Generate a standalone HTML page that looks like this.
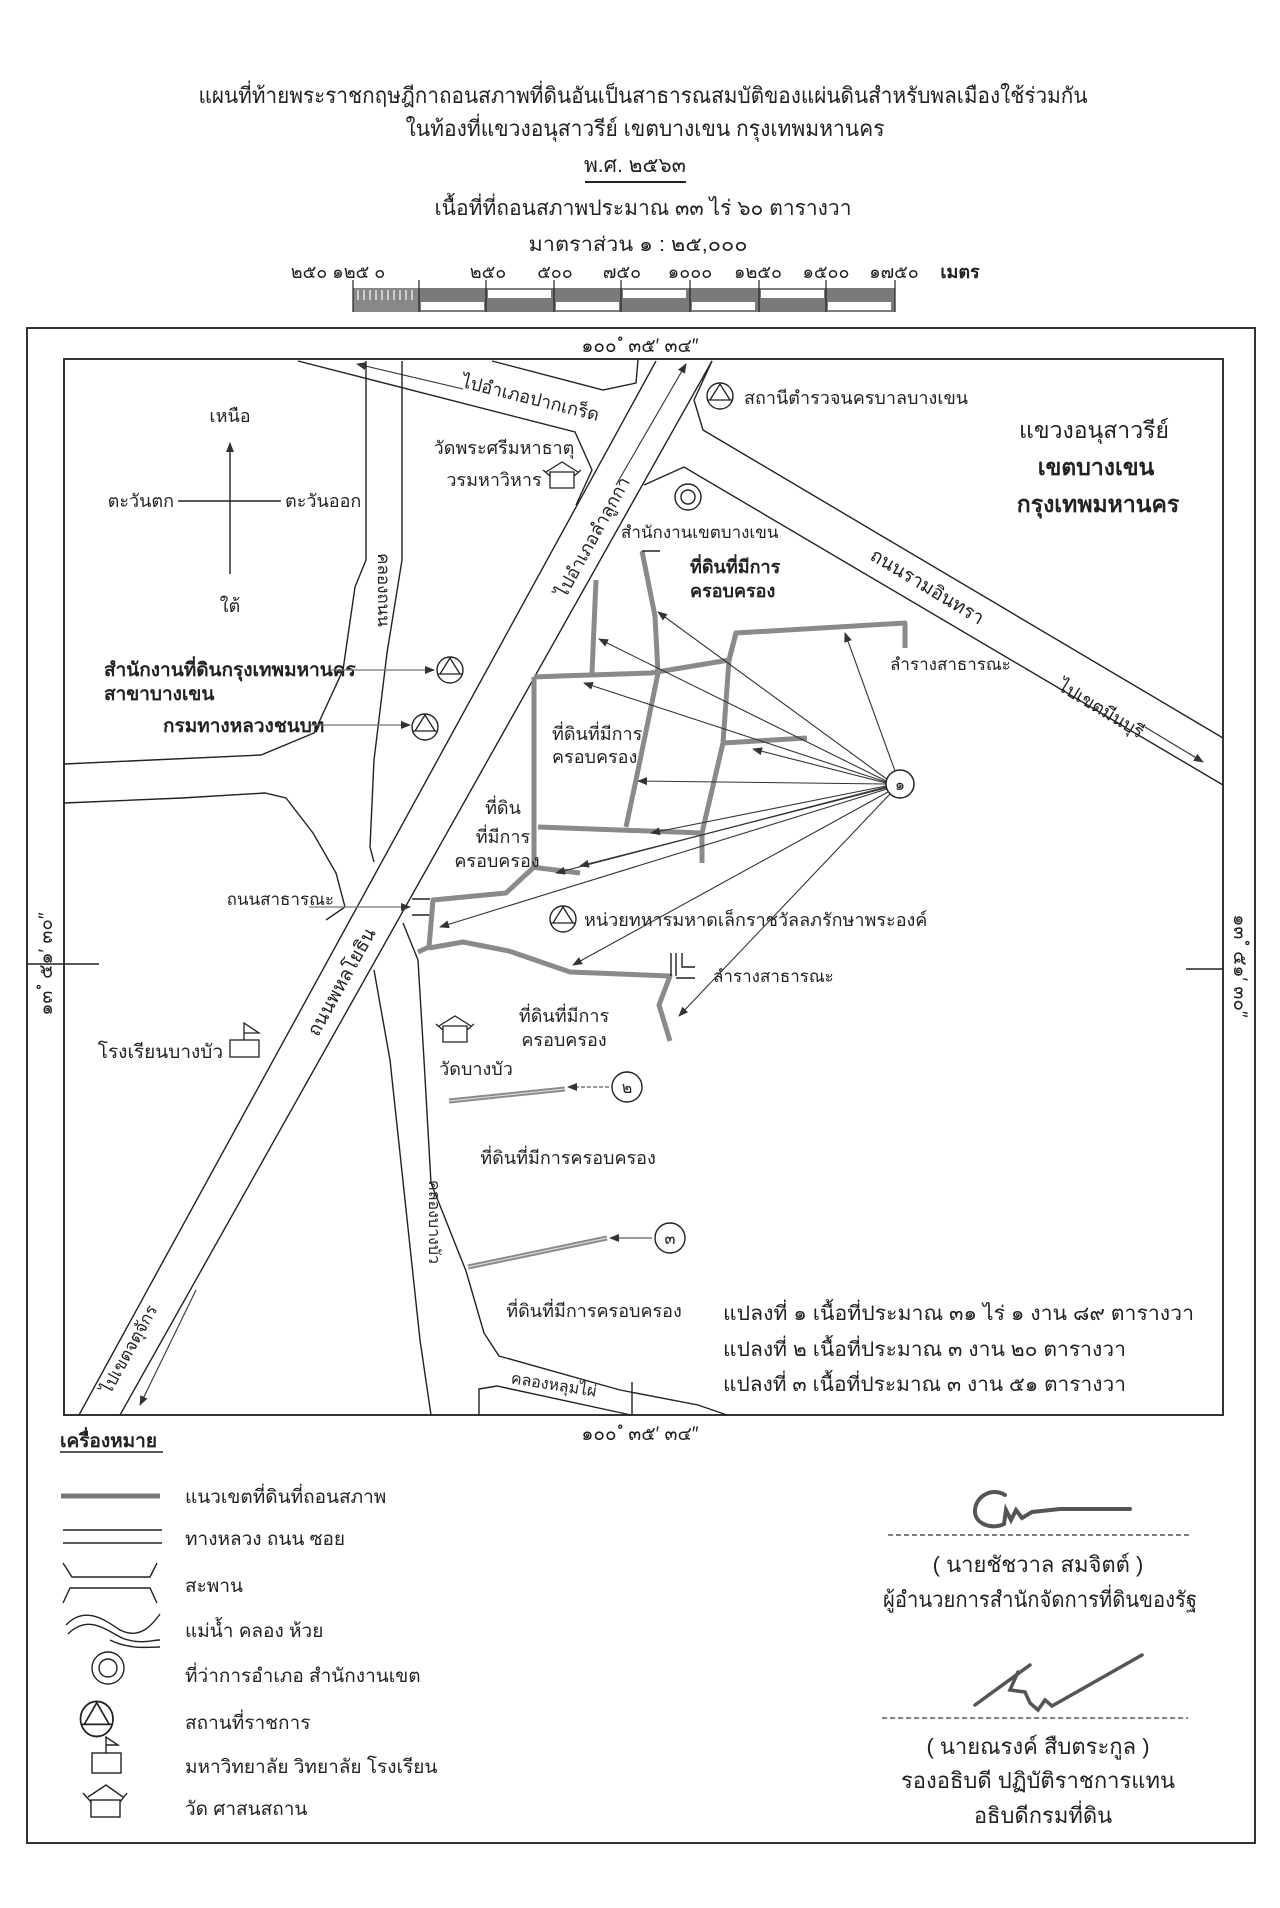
<!DOCTYPE html>
<html><head><meta charset="utf-8">
<style>
html,body{margin:0;padding:0;background:#fff;}
svg{display:block;}
text{font-family:"Liberation Sans","Noto Sans CJK SC",sans-serif;fill:#222;}
.ln{fill:none;stroke:#222;stroke-width:1.4;}
.bd{fill:none;stroke:#8a8a8a;stroke-width:5;stroke-linejoin:round;}
.bdi{fill:none;stroke:#d8d8d8;stroke-width:1.2;}
.ar{fill:none;stroke:#333;stroke-width:1.1;}
.g{fill:none;stroke:#777;stroke-width:1.2;}
</style></head>
<body>
<svg width="1280" height="1908" viewBox="0 0 1280 1908" xmlns="http://www.w3.org/2000/svg">
<defs>
<marker id="ah" viewBox="0 0 10 10" refX="9" refY="5" markerWidth="10" markerHeight="10" markerUnits="userSpaceOnUse" orient="auto">
<path d="M0,1 L10,5 L0,9 z" fill="#333"/></marker>
<g id="gov"><circle cx="0" cy="0" r="13" fill="none" stroke="#222" stroke-width="1.4"/><path d="M0,-12 L-10,4 L10,4 z M-12,4 L12,4" fill="none" stroke="#222" stroke-width="1.3"/></g>
<g id="tmp"><path d="M-12,-2 L-12,14 L12,14 L12,-2 z M-19,-4 L-12,2 M-16,-2 L0,-12 L16,-2 M19,-4 L12,2" fill="none" stroke="#222" stroke-width="1.3"/></g>
</defs>

<!-- Titles -->
<text x="643" y="103" font-size="22" text-anchor="middle" textLength="889" lengthAdjust="spacingAndGlyphs">แผนที่ท้ายพระราชกฤษฎีกาถอนสภาพที่ดินอันเป็นสาธารณสมบัติของแผ่นดินสำหรับพลเมืองใช้ร่วมกัน</text>
<text x="645" y="136" font-size="22" text-anchor="middle" textLength="479" lengthAdjust="spacingAndGlyphs">ในท้องที่แขวงอนุสาวรีย์  เขตบางเขน  กรุงเทพมหานคร</text>
<text x="635" y="172" font-size="21" text-anchor="middle">พ.ศ. ๒๕๖๓</text>
<line x1="585" y1="182" x2="686" y2="182" stroke="#222" stroke-width="2"/>
<text x="643" y="215" font-size="21" text-anchor="middle" textLength="417" lengthAdjust="spacingAndGlyphs">เนื้อที่ที่ถอนสภาพประมาณ ๓๓ ไร่ ๖๐ ตารางวา</text>
<text x="638" y="251" font-size="20" text-anchor="middle" textLength="219" lengthAdjust="spacingAndGlyphs">มาตราส่วน ๑ : ๒๕,๐๐๐</text>
<g font-size="18" text-anchor="middle">
<text x="338" y="278">๒๕๐ ๑๒๕ ๐</text>
<text x="488" y="278">๒๕๐</text><text x="555" y="278">๕๐๐</text><text x="622" y="278">๗๕๐</text>
<text x="690" y="278">๑๐๐๐</text><text x="758" y="278">๑๒๕๐</text><text x="826" y="278">๑๕๐๐</text>
<text x="894" y="278">๑๗๕๐</text><text x="960" y="278" font-weight="bold">เมตร</text>
</g>
<!-- scale bar -->
<g>
<rect x="353" y="288" width="542" height="24" fill="#7a7a7a"/>
<rect x="353" y="288" width="66" height="24" fill="#888"/>
<g stroke="#fff" stroke-width="1.2">
<line x1="358" y1="290" x2="358" y2="300"/><line x1="364" y1="290" x2="364" y2="300"/><line x1="370" y1="290" x2="370" y2="300"/><line x1="376" y1="290" x2="376" y2="300"/><line x1="382" y1="290" x2="382" y2="300"/><line x1="388" y1="290" x2="388" y2="300"/><line x1="394" y1="290" x2="394" y2="300"/><line x1="400" y1="290" x2="400" y2="300"/><line x1="406" y1="290" x2="406" y2="300"/><line x1="412" y1="290" x2="412" y2="300"/>
</g>
<rect x="421" y="302" width="63" height="8" fill="#fff"/>
<rect x="488" y="290" width="63" height="8" fill="#fff"/>
<rect x="556" y="302" width="63" height="8" fill="#fff"/>
<rect x="623" y="290" width="63" height="8" fill="#fff"/>
<rect x="692" y="302" width="63" height="8" fill="#fff"/>
<rect x="761" y="290" width="63" height="8" fill="#fff"/>
<rect x="828" y="302" width="63" height="8" fill="#fff"/>
<g stroke="#222" stroke-width="1.2">
<line x1="353" y1="280" x2="353" y2="312"/><line x1="419" y1="280" x2="419" y2="312"/><line x1="486" y1="280" x2="486" y2="312"/><line x1="554" y1="280" x2="554" y2="312"/><line x1="621" y1="280" x2="621" y2="312"/><line x1="690" y1="280" x2="690" y2="312"/><line x1="759" y1="280" x2="759" y2="312"/><line x1="826" y1="280" x2="826" y2="312"/><line x1="895" y1="280" x2="895" y2="312"/>
</g>
</g>

<!-- Frames -->
<rect x="27" y="328" width="1228" height="1515" fill="none" stroke="#333" stroke-width="2"/>
<rect x="64" y="359" width="1159" height="1056" fill="none" stroke="#333" stroke-width="2"/>
<text x="640" y="358" font-size="19" text-anchor="middle" dy="-6">๑๐๐ ํ ๓๕′ ๓๔″</text>
<text x="640" y="1440" font-size="19" text-anchor="middle">๑๐๐ ํ ๓๕′ ๓๔″</text>
<text transform="translate(52,964) rotate(-90)" font-size="19" text-anchor="middle">๑๓ ํ ๕๑′ ๓๐″</text>
<text transform="translate(1234,966) rotate(90)" font-size="19" text-anchor="middle">๑๓ ํ ๕๑′ ๓๐″</text>
<line x1="27" y1="964" x2="99" y2="964" class="ln"/>
<line x1="1186" y1="969" x2="1223" y2="969" class="ln"/>

<!-- Compass -->
<line x1="230" y1="574" x2="230" y2="443" class="ln" marker-end="url(#ah)"/>
<line x1="178" y1="501" x2="281" y2="501" class="ln"/>
<text x="230" y="422" font-size="18" text-anchor="middle">เหนือ</text>
<text x="230" y="612" font-size="18" text-anchor="middle">ใต้</text>
<text x="174" y="507" font-size="18" text-anchor="end">ตะวันตก</text>
<text x="285" y="507" font-size="18">ตะวันออก</text>

<!-- Main road Phahonyothin -->
<line x1="79" y1="1415" x2="656" y2="361" class="ln"/>
<line x1="120" y1="1415" x2="712" y2="361" class="ln"/>
<line x1="616" y1="485" x2="686" y2="364" class="ar" marker-end="url(#ah)"/>
<text transform="translate(598,540) rotate(-61)" font-size="18" text-anchor="middle">ไปอำเภอลำลูกกา</text>
<text transform="translate(347,985) rotate(-61)" font-size="19" text-anchor="middle">ถนนพหลโยธิน</text>
<text transform="translate(134,1352) rotate(-61)" font-size="17" text-anchor="middle">ไปเขตจตุจักร</text>
<line x1="196" y1="1290" x2="140" y2="1405" class="ar" marker-end="url(#ah)"/>

<!-- Pak Kret road -->
<path d="M298,361 L575,432 L592,470 L576,505" class="ln"/>
<path d="M492,361 L603,390 L636,383 L638,360" class="ln"/>
<line x1="463" y1="389" x2="357" y2="364" class="ar" marker-end="url(#ah)"/>
<text transform="translate(529,404) rotate(14)" font-size="18" text-anchor="middle">ไปอำเภอปากเกร็ด</text>
<text x="504" y="454" font-size="18" text-anchor="middle">วัดพระศรีมหาธาตุ</text>
<text x="494" y="486" font-size="18" text-anchor="middle">วรมหาวิหาร</text>
<use href="#tmp" x="562" y="474"/>

<!-- Ramintra road -->
<path d="M712,361 L694,400 L703,430 L1223,738" class="ln"/>
<path d="M644,485 L684,467 L1223,785" class="ln"/>
<line x1="1145" y1="727" x2="1203" y2="762" class="ar" marker-end="url(#ah)"/>
<text transform="translate(924,592) rotate(31)" font-size="19" text-anchor="middle">ถนนรามอินทรา</text>
<text transform="translate(1098,714) rotate(31)" font-size="18" text-anchor="middle">ไปเขตมีนบุรี</text>
<use href="#gov" x="720" y="396"/>
<text x="744" y="404" font-size="18">สถานีตำรวจนครบาลบางเขน</text>
<text x="1094" y="438" font-size="23" text-anchor="middle">แขวงอนุสาวรีย์</text>
<text x="1096" y="475" font-size="23" text-anchor="middle" font-weight="bold">เขตบางเขน</text>
<text x="1098" y="512" font-size="23" text-anchor="middle" font-weight="bold">กรุงเทพมหานคร</text>
<circle cx="688" cy="497" r="13" fill="none" stroke="#222" stroke-width="1.4"/>
<circle cx="688" cy="497" r="7" fill="none" stroke="#222" stroke-width="1.4"/>
<text x="621" y="538" font-size="17">สำนักงานเขตบางเขน</text>
<text x="690" y="573" font-size="18" font-weight="bold">ที่ดินที่มีการ</text>
<text x="690" y="597" font-size="18" font-weight="bold">ครอบครอง</text>
<text x="890" y="670" font-size="17">ลำรางสาธารณะ</text>

<!-- Khlong Thanon -->
<path d="M366,361 L366,560 L355,587 L343,670 L314,733 L261,755 L64,764" class="ln"/>
<path d="M402,361 L402,560 L387,653 L374,760 L370,847 L374,862" class="ln"/>
<path d="M64,803 L182,798 L265,793 L286,798 L313,833 L336,873 L345,907 L326,920" class="ln"/>
<text transform="translate(378,590) rotate(90)" font-size="17" text-anchor="middle">คลองถนน</text>

<!-- Khlong Bang Bua -->
<path d="M374,970 L390,1060 L405,1200 L420,1340 L431,1415" class="ln"/>
<path d="M403,923 L418,960 L424,1060 L431,1183 L466,1271 L484,1333 L499,1356 L620,1390 L698,1405 L727,1415" class="ln"/>
<path d="M479,1415 L479,1389 L497,1386 L631,1415" class="ln"/>
<line x1="632" y1="1382" x2="632" y2="1415" class="ln"/>
<text transform="translate(429,1222) rotate(90)" font-size="16" text-anchor="middle">คลองบางบัว</text>
<text transform="translate(553,1390) rotate(9)" font-size="16" text-anchor="middle">คลองหลุมไผ่</text>

<!-- Left labels -->
<text x="104" y="676" font-size="19" font-weight="bold">สำนักงานที่ดินกรุงเทพมหานคร</text>
<text x="104" y="700" font-size="19" font-weight="bold">สาขาบางเขน</text>
<line x1="330" y1="670" x2="434" y2="670" class="g" marker-end="url(#ah)"/>
<use href="#gov" x="450" y="670"/>
<text x="163" y="732" font-size="19" font-weight="bold">กรมทางหลวงชนบท</text>
<line x1="311" y1="725" x2="410" y2="725" class="g" marker-end="url(#ah)"/>
<use href="#gov" x="425" y="727"/>
<text x="334" y="905" font-size="17" text-anchor="end">ถนนสาธารณะ</text>
<line x1="309" y1="907" x2="410" y2="907" class="g" marker-end="url(#ah)"/>
<path d="M412,899 L430,899 M412,915 L430,915" class="ln"/>
<text x="223" y="1058" font-size="19" text-anchor="end">โรงเรียนบางบัว</text>
<rect x="230" y="1040" width="29" height="17" fill="none" stroke="#222" stroke-width="1.3"/>
<path d="M244,1040 L244,1023 L259,1033 L244,1033" fill="none" stroke="#222" stroke-width="1.3"/>

<!-- Parcel 1 boundaries -->
<g>
<path d="M596,580 L592,673" class="bd"/>
<path d="M642,551 L655,616 L658,673 L636,780 L626,827" class="bd"/>
<path d="M642,551 L660,551" class="ln"/>
<path d="M534,677 L560,676 L651,673 L729,660 L736,633 L905,623 L905,648" class="bd"/>
<path d="M736,633 L729,660 L723,743 L702,833 L702,863" class="bd"/>
<path d="M723,743 L807,738" class="bd"/>
<path d="M534,677 L534,867 L506,893 L433,900 L429,947 L418,952" class="bd"/>
<path d="M538,827 L702,833" class="bd"/>
<path d="M531,867 L580,873" class="bd"/>
<path d="M429,948 L463,942 L509,951 L570,972 L670,976 L659,1005 L670,1041" class="bd"/>
<path d="M671,953 L671,976 M676,953 L676,976 M682,953 L682,967 L695,967 M676,978 L695,978" class="ln"/>
</g>
<!-- radial arrows from 1 -->
<g class="ar">
<line x1="888" y1="780" x2="658" y2="612" marker-end="url(#ah)"/>
<line x1="886" y1="781" x2="599" y2="639" marker-end="url(#ah)"/>
<line x1="886" y1="782" x2="584" y2="683" marker-end="url(#ah)"/>
<line x1="886" y1="783" x2="753" y2="749" marker-end="url(#ah)"/>
<line x1="886" y1="784" x2="638" y2="781" marker-end="url(#ah)"/>
<line x1="895" y1="771" x2="845" y2="633" marker-end="url(#ah)"/>
<line x1="886" y1="786" x2="651" y2="833" marker-end="url(#ah)"/>
<line x1="886" y1="787" x2="556" y2="873" marker-end="url(#ah)"/>
<line x1="887" y1="789" x2="440" y2="927" marker-end="url(#ah)"/>
<line x1="890" y1="794" x2="679" y2="1016" marker-end="url(#ah)"/>
<line x1="888" y1="792" x2="573" y2="965" marker-end="url(#ah)"/>
<line x1="886" y1="788" x2="580" y2="866" marker-end="url(#ah)"/>
</g>
<circle cx="900" cy="784" r="14" fill="#fff" stroke="#222" stroke-width="1.5"/>
<text x="900" y="790" font-size="16" text-anchor="middle">๑</text>
<text x="552" y="740" font-size="18">ที่ดินที่มีการ</text>
<text x="552" y="763" font-size="18">ครอบครอง</text>
<text x="503" y="814" font-size="18" text-anchor="middle">ที่ดิน</text>
<text x="503" y="843" font-size="18" text-anchor="middle">ที่มีการ</text>
<text x="497" y="867" font-size="18" text-anchor="middle">ครอบครอง</text>
<use href="#gov" x="563" y="919"/>
<text x="584" y="926" font-size="18">หน่วยทหารมหาดเล็กราชวัลลภรักษาพระองค์</text>
<text x="713" y="982" font-size="17">ลำรางสาธารณะ</text>
<text x="564" y="1022" font-size="18" text-anchor="middle">ที่ดินที่มีการ</text>
<text x="564" y="1046" font-size="18" text-anchor="middle">ครอบครอง</text>
<use href="#tmp" x="455" y="1028"/>
<text x="476" y="1075" font-size="18" text-anchor="middle">วัดบางบัว</text>

<!-- Parcel 2 & 3 -->
<path d="M449,1101 L565,1089" class="bd"/><path d="M449,1101 L565,1089" class="bdi"/>
<line x1="609" y1="1087" x2="568" y2="1087" class="ar" stroke-dasharray="4,2" marker-end="url(#ah)"/>
<circle cx="627" cy="1087" r="15" fill="none" stroke="#222" stroke-width="1.4"/>
<text x="627" y="1093" font-size="16" text-anchor="middle">๒</text>
<text x="568" y="1164" font-size="18" text-anchor="middle">ที่ดินที่มีการครอบครอง</text>
<path d="M468,1267 L607,1238" class="bd"/><path d="M468,1267 L607,1238" class="bdi"/>
<line x1="652" y1="1238" x2="610" y2="1238" class="ar" marker-end="url(#ah)"/>
<circle cx="670" cy="1238" r="15" fill="none" stroke="#222" stroke-width="1.4"/>
<text x="670" y="1244" font-size="16" text-anchor="middle">๓</text>
<text x="594" y="1317" font-size="18" text-anchor="middle">ที่ดินที่มีการครอบครอง</text>
<text x="723" y="1320" font-size="20" textLength="471" lengthAdjust="spacingAndGlyphs">แปลงที่ ๑ เนื้อที่ประมาณ ๓๑ ไร่ ๑ งาน ๘๙ ตารางวา</text>
<text x="723" y="1356" font-size="20" textLength="403" lengthAdjust="spacingAndGlyphs">แปลงที่ ๒ เนื้อที่ประมาณ ๓ งาน ๒๐ ตารางวา</text>
<text x="723" y="1391" font-size="20" textLength="403" lengthAdjust="spacingAndGlyphs">แปลงที่ ๓ เนื้อที่ประมาณ ๓ งาน ๕๑ ตารางวา</text>

<!-- Legend -->
<text x="60" y="1447" font-size="19" font-weight="bold">เครื่องหมาย</text>
<line x1="60" y1="1452" x2="163" y2="1452" stroke="#222" stroke-width="1.5"/>
<line x1="61" y1="1496" x2="160" y2="1496" stroke="#777" stroke-width="5"/>
<text x="185" y="1503" font-size="19">แนวเขตที่ดินที่ถอนสภาพ</text>
<line x1="63" y1="1530" x2="162" y2="1530" class="ln"/><line x1="63" y1="1543" x2="162" y2="1543" class="ln"/>
<text x="185" y="1545" font-size="19">ทางหลวง  ถนน  ซอย</text>
<path d="M63,1563 L72,1577 L150,1577 L157,1563 M63,1603 L70,1588 L150,1588 L157,1603" class="ln"/>
<text x="185" y="1592" font-size="19">สะพาน</text>
<path d="M66,1625 C85,1605 105,1620 120,1630 C140,1640 152,1625 160,1614 M68,1634 C88,1614 106,1630 122,1638 C140,1645 152,1640 160,1640 M110,1640 C130,1650 150,1647 160,1647" class="ln"/>
<text x="185" y="1637" font-size="19">แม่น้ำ  คลอง  ห้วย</text>
<circle cx="108" cy="1668" r="16" fill="none" stroke="#222" stroke-width="1.4"/>
<circle cx="108" cy="1668" r="9" fill="none" stroke="#222" stroke-width="1.4"/>
<text x="185" y="1682" font-size="19">ที่ว่าการอำเภอ  สำนักงานเขต</text>
<use href="#gov" x="107" y="1717" transform="translate(-37,-599) scale(1.25,1.35)"/>
<text x="185" y="1729" font-size="19">สถานที่ราชการ</text>
<rect x="92" y="1753" width="29" height="20" fill="none" stroke="#222" stroke-width="1.4"/>
<path d="M106,1753 L106,1737 L118,1745 L106,1745" fill="none" stroke="#222" stroke-width="1.4"/>
<text x="185" y="1773" font-size="19">มหาวิทยาลัย  วิทยาลัย  โรงเรียน</text>
<rect x="91" y="1800" width="29" height="17" fill="none" stroke="#222" stroke-width="1.4"/>
<path d="M83,1793 L91,1802 M88,1797 L106,1785 L123,1797 M127,1793 L120,1802" fill="none" stroke="#222" stroke-width="1.4"/>
<text x="185" y="1815" font-size="19">วัด  ศาสนสถาน</text>

<!-- Signatures -->
<path d="M1005,1495 C992,1487 976,1496 975,1510 C974,1524 992,1530 1004,1524 L1006,1510 L1011,1520 L1016,1510 L1022,1518 L1032,1512 L1060,1509 L1130,1509" fill="none" stroke="#555" stroke-width="4" stroke-linecap="round"/>
<line x1="888" y1="1535" x2="1192" y2="1535" stroke="#333" stroke-width="1.2" stroke-dasharray="5,3"/>
<text x="1038" y="1572" font-size="22" text-anchor="middle">( นายชัชวาล  สมจิตต์ )</text>
<text x="1040" y="1607" font-size="22" text-anchor="middle" textLength="314" lengthAdjust="spacingAndGlyphs">ผู้อำนวยการสำนักจัดการที่ดินของรัฐ</text>
<path d="M975,1705 L1030,1665 M1018,1672 L1010,1690 L1025,1692 L1030,1703 L1038,1710 L1045,1700 L1052,1706 L1142,1655" fill="none" stroke="#555" stroke-width="3.5" stroke-linecap="round"/>
<line x1="882" y1="1718" x2="1188" y2="1718" stroke="#333" stroke-width="1.2" stroke-dasharray="5,3"/>
<text x="1038" y="1754" font-size="22" text-anchor="middle">( นายณรงค์  สืบตระกูล )</text>
<text x="1038" y="1788" font-size="22" text-anchor="middle">รองอธิบดี  ปฏิบัติราชการแทน</text>
<text x="1043" y="1823" font-size="22" text-anchor="middle">อธิบดีกรมที่ดิน</text>
</svg>
</body></html>
